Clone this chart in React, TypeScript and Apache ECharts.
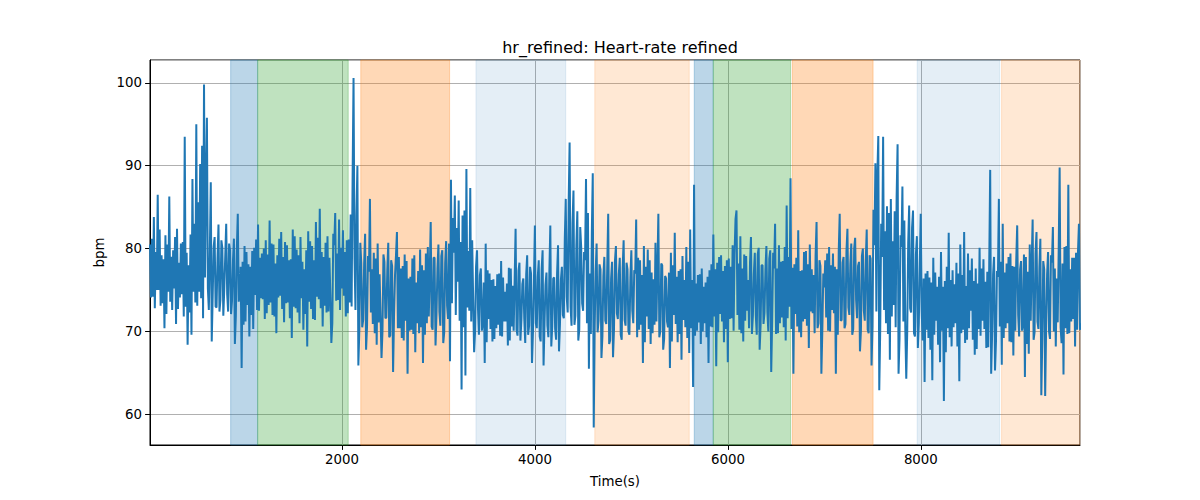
import React, { useEffect, useRef } from "react";
import * as echarts from "echarts";

// Heart-rate readings (bpm). Each STEP-second slot holds two samples, SUB seconds apart:
// hrMain is the main reading of the slot, hrExtra the opposite-swing reading of the same slot.
const T0 = 9;
const STEP = 20;
const SUB = 10;
const hrMain: number[] = [
  80.5, 74.2, 83.8, 75.0, 86.5, 73.1, 79.2, 70.4, 81.6, 74.8,
  86.3, 72.6, 79.8, 70.9, 82.4, 74.1, 80.6, 71.8, 93.5, 68.4,
  78.0, 69.6, 88.4, 73.5, 95.0, 74.8, 90.2, 71.6, 99.8, 95.8,
  75.2, 88.0, 68.8, 81.4, 73.0, 82.9, 72.4, 80.1, 71.9, 83.0,
  74.5, 79.8, 72.1, 81.2, 68.5, 84.2, 73.6, 65.6, 78.4, 71.2,
  79.6, 69.4, 77.8, 70.3, 80.1, 72.6, 82.9, 74.0, 79.4, 71.5,
  81.0, 73.2, 83.4, 72.0, 80.5, 69.8, 79.2, 74.3, 82.0, 71.1,
  80.8, 73.5, 78.6, 69.2, 82.3, 72.8, 79.9, 71.0, 81.4, 70.2,
  77.5, 68.2, 82.1, 72.7, 80.3, 71.4, 83.2, 73.9, 84.8, 70.6,
  79.0, 72.3, 81.5, 74.2, 68.6, 80.4, 84.3, 73.8, 83.5, 75.2,
  82.2, 71.8, 81.0, 73.5, 84.1, 100.6, 79.0, 90.0, 65.9, 78.3,
  70.5, 81.8, 67.8, 77.2, 86.0, 70.9, 79.5, 68.4, 80.6, 72.0,
  66.8, 78.4, 71.6, 80.7, 69.3, 77.9, 65.1, 79.2, 82.0, 70.4,
  77.6, 68.9, 79.3, 64.9, 76.4, 70.2, 78.8, 67.5, 75.9, 69.8,
  79.9, 66.2, 77.4, 71.0, 80.2, 83.2, 70.6, 78.9, 68.3, 80.5,
  72.4, 79.8, 68.6, 80.9, 73.1, 66.4, 88.3, 79.5, 86.4, 76.0,
  85.8, 63.0, 84.0, 64.7, 89.6, 72.5, 87.3, 74.0, 67.5, 79.8,
  72.8, 77.6, 70.1, 66.2, 80.6, 71.5, 77.0, 68.8, 76.3, 70.4,
  76.9, 69.5, 78.5, 71.2, 74.8, 68.3, 77.7, 70.6, 75.5, 82.4,
  70.2, 78.3, 68.9, 76.4, 71.5, 79.2, 69.6, 77.0, 66.2, 82.8,
  71.0, 78.6, 69.4, 79.8, 65.9, 77.1, 70.7, 82.8, 68.2, 76.5,
  70.3, 80.4, 67.6, 77.8, 72.0, 86.0, 74.2, 92.8, 73.0, 87.0,
  70.8, 84.5, 68.9, 80.2, 73.4, 78.6, 88.4, 65.5, 77.0, 89.1,
  58.4, 80.6, 69.9, 77.5, 66.8, 79.0, 71.3, 84.2, 68.5, 78.4,
  66.9, 80.3, 72.2, 78.9, 69.6, 81.0, 71.4, 77.5, 70.0, 79.8,
  72.5, 77.0, 83.5, 70.2, 78.6, 66.2, 80.3, 71.8, 79.9, 68.5,
  77.1, 70.8, 80.7, 84.2, 69.3, 78.0, 67.8, 76.4, 71.2, 65.6,
  79.5, 72.0, 81.9, 68.7, 77.3, 66.6, 79.1, 70.5, 80.2, 67.4,
  82.3, 63.3, 87.7, 70.1, 76.8, 68.5, 77.6, 71.0, 75.9, 66.2,
  77.4, 70.5, 81.7, 65.8, 78.3, 72.1, 79.2, 68.7, 77.9, 66.3,
  78.8, 71.6, 80.4, 83.6, 84.6, 70.2, 81.5, 68.8, 79.3, 72.5,
  76.2, 81.4, 69.7, 79.5, 72.0, 80.1, 67.8, 78.0, 70.9, 80.3,
  72.4, 79.8, 65.1, 77.6, 83.0, 69.8, 80.4, 71.7, 78.5, 68.9,
  85.2, 73.0, 88.5, 64.9, 78.1, 70.6, 82.2, 69.3, 77.4, 71.5,
  79.7, 68.0, 80.5, 72.2, 76.8, 83.2, 70.4, 77.9, 64.9, 75.3,
  78.6, 70.1, 80.2, 72.6, 79.4, 64.9, 77.5, 84.2, 71.3, 79.0,
  70.4, 82.4, 72.9, 80.6, 69.6, 81.3, 73.8, 78.4, 67.6, 80.0,
  72.5, 82.3, 70.2, 78.8, 65.9, 80.4, 90.3, 93.6, 62.9, 79.0,
  93.5, 71.0, 85.1, 66.6, 86.0, 73.2, 84.5, 92.6, 64.9, 80.2,
  87.5, 70.3, 64.3, 85.2, 72.8, 84.6, 69.8, 81.5, 68.0, 84.2,
  72.4, 63.9, 77.0, 69.2, 76.5, 64.1, 78.9, 71.3, 75.4, 66.3,
  79.6, 61.6, 76.1, 70.4, 81.9, 68.2, 77.4, 71.0, 78.3, 64.0,
  80.5, 70.2, 82.0, 69.0, 79.4, 72.5, 78.8, 67.2, 77.6, 70.3,
  80.1, 71.3, 78.7, 68.0, 77.2, 89.5, 64.9, 79.0, 65.3, 76.6,
  86.0, 66.0, 83.0, 70.4, 78.2, 68.8, 79.4, 67.1, 77.8, 82.8,
  72.0, 78.5, 70.1, 64.5, 79.0, 67.3, 80.5, 83.5, 69.0, 82.0,
  71.2, 81.2, 62.3, 77.5, 62.2, 79.6, 70.0, 78.3, 82.6, 68.2,
  76.4, 89.8, 70.5, 64.8, 80.2, 69.7, 87.7, 71.2, 78.9, 68.2,
  79.5, 83.0, 70.2,
];

const hrExtra: number[] = [
  74.1, 81.2, 72.8, 79.6, 75.0, 82.3, 73.4, 78.7, 72.1, 80.5,
  73.6, 79.0, 75.2, 81.4, 72.7, 78.3, 74.5, 80.8, 73.0, 79.5,
  72.3, 81.7, 74.8, 83.0, 73.1, 85.6, 74.0, 92.4, 76.5, 88.1,
  72.6, 79.4, 74.3, 80.2, 72.9, 78.8, 73.8, 81.0, 75.1, 79.1,
  72.4, 80.6, 73.7, 78.5, 71.9, 79.9, 74.6, 77.8, 70.8, 80.3,
  73.2, 78.1, 72.0, 79.7, 74.4, 81.1, 72.5, 78.9, 73.9, 80.0,
  72.2, 79.3, 73.5, 80.6, 71.8, 78.2, 74.1, 81.2, 72.7, 79.0,
  73.4, 80.4, 71.6, 78.7, 73.0, 81.5, 72.3, 79.2, 74.0, 78.4,
  72.1, 79.8, 73.6, 80.9, 71.5, 78.6, 74.2, 81.3, 72.8, 79.6,
  73.1, 80.7, 72.4, 78.9, 71.0, 81.8, 73.7, 79.4, 72.6, 80.1,
  74.3, 79.6, 72.2, 81.1, 73.0, 88.2, 72.6, 84.0, 70.1, 80.7,
  71.4, 78.2, 70.6, 79.1, 72.3, 77.5, 69.8, 78.8, 71.1, 76.9,
  70.0, 79.3, 71.7, 77.4, 69.5, 78.6, 72.0, 76.8, 70.4, 79.0,
  69.2, 77.9, 71.3, 78.5, 70.1, 76.6, 69.7, 79.2, 71.0, 77.3,
  70.5, 78.0, 69.6, 79.4, 71.8, 77.1, 70.2, 78.9, 72.1, 77.6,
  70.7, 79.1, 69.9, 78.3, 71.5, 80.6, 73.4, 83.7, 72.0, 82.5,
  71.3, 80.8, 70.5, 84.6, 72.9, 79.7, 71.2, 81.0, 70.0, 77.8,
  69.6, 76.8, 71.0, 75.9, 68.7, 77.4, 70.3, 76.2, 69.1, 75.5,
  70.8, 77.0, 69.4, 76.5, 71.2, 75.8, 68.9, 77.6, 70.1, 76.1,
  69.5, 77.3, 71.4, 75.7, 68.6, 76.9, 70.7, 77.8, 69.9, 76.0,
  70.4, 76.6, 68.8, 77.5, 71.1, 75.6, 69.3, 77.2, 70.6, 76.4,
  69.0, 77.0, 70.9, 76.3, 71.6, 81.2, 72.3, 85.5, 70.7, 83.1,
  71.9, 80.4, 70.2, 82.6, 72.5, 79.6, 71.0, 84.3, 69.7, 81.8,
  70.6, 77.2, 71.3, 78.1, 69.4, 76.7, 70.9, 77.9, 68.9, 76.4,
  70.2, 78.5, 71.5, 76.9, 69.0, 77.7, 70.7, 78.3, 69.6, 76.5,
  71.0, 77.4, 69.3, 78.9, 70.8, 76.8, 68.7, 77.8, 70.3, 78.6,
  69.8, 76.3, 71.2, 77.6, 70.0, 78.2, 69.1, 76.7, 70.5, 77.1,
  68.8, 78.0, 70.9, 76.6, 69.7, 77.5, 71.4, 76.2, 69.2, 78.4,
  70.4, 76.2, 69.5, 75.8, 71.1, 76.9, 70.0, 75.4, 69.3, 76.6,
  70.6, 78.1, 71.8, 77.5, 69.9, 79.0, 71.2, 77.3, 70.3, 78.6,
  71.5, 77.8, 70.1, 79.4, 72.0, 78.2, 69.8, 77.6, 71.3, 79.1,
  70.4, 78.3, 71.9, 77.0, 69.6, 79.3, 70.8, 78.0, 72.2, 77.4,
  70.0, 78.8, 71.4, 79.5, 69.7, 77.6, 71.0, 78.4, 70.5, 80.2,
  71.6, 79.0, 70.3, 77.7, 72.1, 78.9, 69.9, 77.3, 71.2, 79.6,
  70.7, 78.1, 72.4, 77.5, 69.8, 79.2, 71.0, 78.6, 70.2, 77.0,
  71.7, 79.4, 70.0, 78.0, 72.2, 77.8, 69.6, 79.8, 71.4, 78.3,
  70.9, 79.7, 72.0, 78.1, 70.3, 80.0, 71.6, 77.9, 70.1, 79.1,
  71.3, 78.5, 69.8, 79.2, 70.6, 84.7, 72.4, 88.8, 70.2, 83.0,
  72.6, 82.1, 69.7, 84.3, 71.8, 80.9, 70.5, 86.2, 69.1, 81.6,
  71.2, 83.4, 70.0, 80.7, 72.3, 82.5, 69.4, 79.3, 71.0, 78.0,
  68.9, 76.4, 70.2, 77.3, 67.8, 75.9, 69.6, 77.1, 68.4, 76.6,
  70.1, 75.4, 67.5, 77.8, 69.3, 76.2, 70.5, 75.7, 68.2, 77.0,
  69.8, 76.8, 68.6, 75.5, 70.4, 77.4, 69.0, 76.1, 67.9, 75.8,
  69.5, 77.6, 70.3, 76.0, 68.1, 78.2, 69.7, 76.9, 68.8, 77.3,
  70.6, 78.4, 69.2, 77.1, 71.0, 79.0, 68.7, 77.9, 70.1, 78.6,
  69.4, 77.5, 70.8, 79.3, 68.5, 77.2, 71.3, 78.1, 69.9, 79.4,
  70.3, 77.7, 68.9, 78.5, 70.6, 76.9, 69.1, 79.2, 70.0, 77.6,
  71.1, 79.8, 68.6, 78.2, 70.4, 80.3, 69.8, 77.5, 71.5, 78.9,
  70.2, 79.6, 71.0,
];

// Shaded phases: start/end time (s) and colour kind
const spanStarts: number[] = [845, 1125, 2194, 3388, 4620, 5651, 5848, 6668, 7962, 8837];
const spanEnds: number[] = [1125, 2064, 3115, 4319, 5599, 5848, 6650, 7505, 8817, 9660];
const spanKinds: string[] = ["blue", "green", "orange", "lightblue", "lightorange", "blue", "green", "orange", "lightblue", "lightorange"];

const X_MIN = 9;
const X_MAX = 9650;
const Y_MIN = 56.3;
const Y_MAX = 102.76;

const kindColor: Record<string, string> = {
  blue: "rgba(31,119,180,0.3)",
  green: "rgba(44,160,44,0.3)",
  orange: "rgba(255,127,14,0.3)",
  lightblue: "rgba(31,119,180,0.12)",
  lightorange: "rgba(255,127,14,0.18)",
};

const FONT = "DejaVu Sans";

export default function App() {
  const ref = useRef<HTMLDivElement>(null);

  useEffect(() => {
    if (!ref.current) return;
    const chart = echarts.init(ref.current, undefined, { renderer: "svg" });
    const lineData: number[][] = [];
    hrMain.forEach((v, i) => {
      const t = T0 + i * STEP;
      const x = hrExtra[i];
      if (i % 2 === 0) {
        lineData.push([t, v]);
        if (x !== undefined) lineData.push([t + SUB, x]);
      } else {
        if (x !== undefined) lineData.push([t, x]);
        lineData.push([t + SUB, v]);
      }
    });
    const areas = spanStarts.map((s, i) => [
      {
        xAxis: s,
        itemStyle: {
          color: kindColor[spanKinds[i]],
          borderColor: kindColor[spanKinds[i]],
          borderWidth: 1,
        },
      },
      { xAxis: spanEnds[i] },
    ]);
    const labelStyle = {
      showMinLabel: false,
      showMaxLabel: false,
      margin: 8,
      fontFamily: FONT,
      fontSize: 13.33,
      color: "#000",
      formatter: (v: number) => String(v),
    };
    chart.setOption({
      animation: false,
      backgroundColor: "#ffffff",
      title: {
        text: "hr_refined: Heart-rate refined",
        left: 615,
        top: 34,
        textAlign: "center",
        textStyle: { fontFamily: FONT, fontSize: 16, fontWeight: "normal", color: "#000" },
      },
      grid: {
        left: 150,
        top: 60,
        width: 930,
        height: 385,
        show: true,
        borderColor: "#000",
        borderWidth: 1,
        backgroundColor: "transparent",
      },
      xAxis: {
        type: "value",
        min: X_MIN,
        max: X_MAX,
        splitNumber: 5,
        name: "Time(s)",
        nameLocation: "middle",
        nameGap: 30,
        nameTextStyle: { fontFamily: FONT, fontSize: 13.33, color: "#000" },
        axisLine: { show: true, onZero: false, lineStyle: { color: "#000", width: 1 } },
        axisTick: { show: true, length: 4.9, lineStyle: { color: "#000", width: 1 } },
        axisLabel: labelStyle,
        splitLine: { show: true, lineStyle: { color: "#b0b0b0", width: 1 } },
      },
      yAxis: {
        type: "value",
        min: Y_MIN,
        max: Y_MAX,
        splitNumber: 5,
        name: "bpm",
        nameLocation: "middle",
        nameGap: 42,
        nameTextStyle: { fontFamily: FONT, fontSize: 13.33, color: "#000" },
        axisLine: { show: true, onZero: false, lineStyle: { color: "#000", width: 1 } },
        axisTick: { show: true, length: 4.9, lineStyle: { color: "#000", width: 1 } },
        axisLabel: labelStyle,
        splitLine: { show: true, lineStyle: { color: "#b0b0b0", width: 1 } },
      },
      series: [
        {
          type: "line",
          name: "phases",
          data: [],
          z: -1,
          silent: true,
          markArea: { silent: true, data: areas },
        },
        {
          type: "line",
          name: "hr",
          data: lineData,
          z: 3,
          showSymbol: false,
          symbol: "none",
          lineStyle: { color: "#1f77b4", width: 2.0 },
          itemStyle: { color: "#1f77b4" },
        },
      ],
    });
    return () => chart.dispose();
  }, []);

  return <div ref={ref} style={{ width: 1200, height: 500, position: "absolute", left: 0, top: 0 }} />;
}
